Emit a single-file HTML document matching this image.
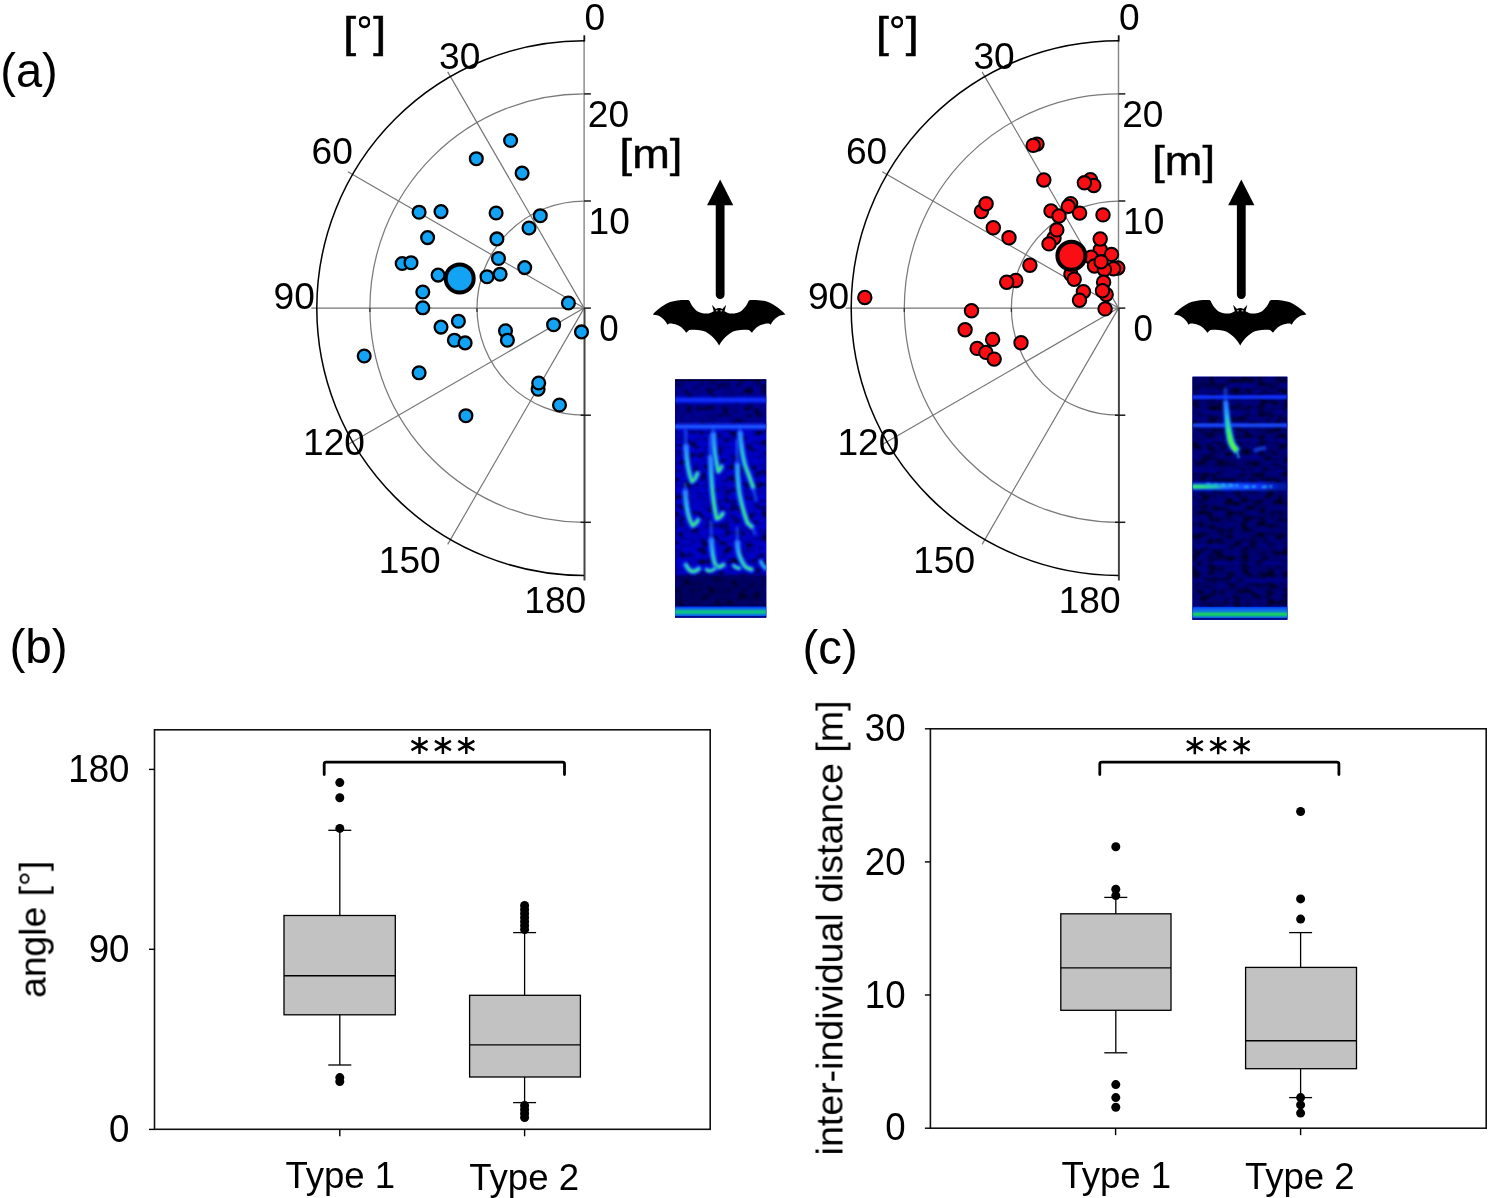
<!DOCTYPE html>
<html><head><meta charset="utf-8"><title>figure</title>
<style>html,body{margin:0;padding:0;background:#fff}svg{display:block}text{font-family:"Liberation Sans", sans-serif;fill:#000;filter:url(#tf)}</style></head><body>
<svg width="1495" height="1198" viewBox="0 0 1495 1198">
<defs>
<filter id="nz" x="0" y="0" width="100%" height="100%" color-interpolation-filters="sRGB">
<feTurbulence type="fractalNoise" baseFrequency="0.13 0.17" numOctaves="2" seed="7" result="t"/>
<feColorMatrix in="t" type="matrix" values="0 0 0 0 0  0 0 0 0 0  1 0 0 0 0  0 0 0 0 1"/>
<feComponentTransfer><feFuncB type="table" tableValues="0.14 0.16 0.20 0.34 0.56 0.72 0.78 0.80 0.80 0.80 0.80"/></feComponentTransfer>
<feGaussianBlur stdDeviation="1.1"/>
</filter>
<filter id="nz2" x="0" y="0" width="100%" height="100%" color-interpolation-filters="sRGB">
<feTurbulence type="fractalNoise" baseFrequency="0.12 0.18" numOctaves="2" seed="23" result="t"/>
<feColorMatrix in="t" type="matrix" values="0 0 0 0 0  0 0 0 0 0  1 0 0 0 0  0 0 0 0 1"/>
<feComponentTransfer><feFuncB type="table" tableValues="0.06 0.08 0.12 0.24 0.44 0.64 0.74 0.78 0.78 0.78 0.78"/></feComponentTransfer>
<feGaussianBlur stdDeviation="1.1"/>
</filter>
<filter id="tf" x="-5%" y="-20%" width="110%" height="140%"><feGaussianBlur stdDeviation="0.3"/></filter>
<filter id="bl1" filterUnits="userSpaceOnUse" x="640" y="360" width="680" height="280"><feGaussianBlur stdDeviation="1.4"/></filter>
<filter id="bl2" filterUnits="userSpaceOnUse" x="640" y="360" width="680" height="280"><feGaussianBlur stdDeviation="0.8"/></filter>
<filter id="soft" x="-5%" y="-5%" width="110%" height="110%"><feGaussianBlur stdDeviation="0.7"/></filter>
<linearGradient id="gline" x1="0" x2="1" y1="0" y2="0">
<stop offset="0" stop-color="#30f070"/><stop offset="0.35" stop-color="#20d0a0"/><stop offset="0.6" stop-color="#2070ff"/><stop offset="1" stop-color="#1038ff"/>
</linearGradient>

</defs>
<rect width="1495" height="1198" fill="#fff"/>
<text transform="translate(0.30 87.40) scale(0.9800 1)" font-size="48" text-anchor="start" >(a)</text>
<text transform="translate(9.40 663.40) scale(0.9900 1)" font-size="48.2" text-anchor="start" >(b)</text>
<text transform="translate(802.60 664.40) scale(0.9800 1)" font-size="48.2" text-anchor="start" >(c)</text>
<g>
<path d="M584.10 201.00 A107.10 107.10 0 0 0 584.10 415.20" fill="none" stroke="#7a7a7a" stroke-width="1.25"/>
<path d="M584.10 93.90 A214.20 214.20 0 0 0 584.10 522.30" fill="none" stroke="#7a7a7a" stroke-width="1.25"/>
<line x1="584.10" y1="308.10" x2="447.70" y2="71.85" stroke="#747474" stroke-width="1.15"/>
<line x1="584.10" y1="308.10" x2="347.85" y2="171.70" stroke="#747474" stroke-width="1.15"/>
<line x1="584.10" y1="308.10" x2="311.30" y2="308.10" stroke="#747474" stroke-width="1.15"/>
<line x1="584.10" y1="308.10" x2="347.85" y2="444.50" stroke="#747474" stroke-width="1.15"/>
<line x1="584.10" y1="308.10" x2="447.70" y2="544.35" stroke="#747474" stroke-width="1.15"/>
<line x1="584.10" y1="40.80" x2="584.10" y2="308.10" stroke="#858585" stroke-width="1.4"/>
<line x1="584.50" y1="308.10" x2="584.50" y2="580.40" stroke="#444" stroke-width="2.0"/>
<line x1="584.30" y1="35.30" x2="584.30" y2="41.60" stroke="#111" stroke-width="1.8"/>
<line x1="584.10" y1="93.90" x2="590.90" y2="93.90" stroke="#1a1a1a" stroke-width="1.5"/>
<line x1="584.10" y1="201.00" x2="590.90" y2="201.00" stroke="#1a1a1a" stroke-width="1.5"/>
<line x1="584.10" y1="308.10" x2="590.90" y2="308.10" stroke="#1a1a1a" stroke-width="1.5"/>
<line x1="580.60" y1="415.20" x2="590.90" y2="415.20" stroke="#1a1a1a" stroke-width="1.5"/>
<line x1="580.60" y1="522.30" x2="590.90" y2="522.30" stroke="#1a1a1a" stroke-width="1.5"/>
<line x1="477.00" y1="308.10" x2="477.00" y2="312.10" stroke="#333" stroke-width="1.3"/>
<line x1="369.90" y1="308.10" x2="369.90" y2="312.10" stroke="#333" stroke-width="1.3"/>
<path d="M584.10 40.80 A267.30 267.30 0 0 0 584.10 575.40" fill="none" stroke="#000" stroke-width="1.5"/>
<circle cx="510.6" cy="140.5" r="6.4" fill="#12a3f5" stroke="#000" stroke-width="2.3"/>
<circle cx="476.3" cy="158.7" r="6.4" fill="#12a3f5" stroke="#000" stroke-width="2.3"/>
<circle cx="522.1" cy="173.1" r="6.4" fill="#12a3f5" stroke="#000" stroke-width="2.3"/>
<circle cx="419.1" cy="212.2" r="6.4" fill="#12a3f5" stroke="#000" stroke-width="2.3"/>
<circle cx="441.0" cy="211.6" r="6.4" fill="#12a3f5" stroke="#000" stroke-width="2.3"/>
<circle cx="496.1" cy="213.0" r="6.4" fill="#12a3f5" stroke="#000" stroke-width="2.3"/>
<circle cx="540.3" cy="215.7" r="6.4" fill="#12a3f5" stroke="#000" stroke-width="2.3"/>
<circle cx="529.0" cy="228.0" r="6.4" fill="#12a3f5" stroke="#000" stroke-width="2.3"/>
<circle cx="427.6" cy="237.6" r="6.4" fill="#12a3f5" stroke="#000" stroke-width="2.3"/>
<circle cx="496.9" cy="238.9" r="6.4" fill="#12a3f5" stroke="#000" stroke-width="2.3"/>
<circle cx="498.5" cy="258.5" r="6.4" fill="#12a3f5" stroke="#000" stroke-width="2.3"/>
<circle cx="524.7" cy="267.6" r="6.4" fill="#12a3f5" stroke="#000" stroke-width="2.3"/>
<circle cx="402.2" cy="263.5" r="6.4" fill="#12a3f5" stroke="#000" stroke-width="2.3"/>
<circle cx="411.0" cy="262.7" r="6.4" fill="#12a3f5" stroke="#000" stroke-width="2.3"/>
<circle cx="438.1" cy="275.1" r="6.4" fill="#12a3f5" stroke="#000" stroke-width="2.3"/>
<circle cx="487.0" cy="276.7" r="6.4" fill="#12a3f5" stroke="#000" stroke-width="2.3"/>
<circle cx="500.1" cy="274.2" r="6.4" fill="#12a3f5" stroke="#000" stroke-width="2.3"/>
<circle cx="422.8" cy="292.0" r="6.4" fill="#12a3f5" stroke="#000" stroke-width="2.3"/>
<circle cx="422.8" cy="307.8" r="6.4" fill="#12a3f5" stroke="#000" stroke-width="2.3"/>
<circle cx="458.4" cy="321.2" r="6.4" fill="#12a3f5" stroke="#000" stroke-width="2.3"/>
<circle cx="441.0" cy="327.1" r="6.4" fill="#12a3f5" stroke="#000" stroke-width="2.3"/>
<circle cx="454.4" cy="340.2" r="6.4" fill="#12a3f5" stroke="#000" stroke-width="2.3"/>
<circle cx="465.1" cy="342.9" r="6.4" fill="#12a3f5" stroke="#000" stroke-width="2.3"/>
<circle cx="505.5" cy="330.8" r="6.4" fill="#12a3f5" stroke="#000" stroke-width="2.3"/>
<circle cx="507.4" cy="340.2" r="6.4" fill="#12a3f5" stroke="#000" stroke-width="2.3"/>
<circle cx="553.6" cy="324.7" r="6.4" fill="#12a3f5" stroke="#000" stroke-width="2.3"/>
<circle cx="568.4" cy="303.0" r="6.4" fill="#12a3f5" stroke="#000" stroke-width="2.3"/>
<circle cx="581.5" cy="331.9" r="6.4" fill="#12a3f5" stroke="#000" stroke-width="2.3"/>
<circle cx="364.2" cy="356.0" r="6.4" fill="#12a3f5" stroke="#000" stroke-width="2.3"/>
<circle cx="419.1" cy="372.8" r="6.4" fill="#12a3f5" stroke="#000" stroke-width="2.3"/>
<circle cx="538.1" cy="389.2" r="6.4" fill="#12a3f5" stroke="#000" stroke-width="2.3"/>
<circle cx="538.7" cy="383.0" r="6.4" fill="#12a3f5" stroke="#000" stroke-width="2.3"/>
<circle cx="559.5" cy="405.0" r="6.4" fill="#12a3f5" stroke="#000" stroke-width="2.3"/>
<circle cx="465.9" cy="415.7" r="6.4" fill="#12a3f5" stroke="#000" stroke-width="2.3"/>
<circle cx="459.7" cy="278.4" r="14.0" fill="#12a3f5" stroke="#000" stroke-width="4"/>
</g>
<g>
<path d="M1118.50 201.00 A107.10 107.10 0 0 0 1118.50 415.20" fill="none" stroke="#7a7a7a" stroke-width="1.25"/>
<path d="M1118.50 93.90 A214.20 214.20 0 0 0 1118.50 522.30" fill="none" stroke="#7a7a7a" stroke-width="1.25"/>
<line x1="1118.50" y1="308.10" x2="982.10" y2="71.85" stroke="#747474" stroke-width="1.15"/>
<line x1="1118.50" y1="308.10" x2="882.25" y2="171.70" stroke="#747474" stroke-width="1.15"/>
<line x1="1118.50" y1="308.10" x2="845.70" y2="308.10" stroke="#747474" stroke-width="1.15"/>
<line x1="1118.50" y1="308.10" x2="882.25" y2="444.50" stroke="#747474" stroke-width="1.15"/>
<line x1="1118.50" y1="308.10" x2="982.10" y2="544.35" stroke="#747474" stroke-width="1.15"/>
<line x1="1118.50" y1="40.80" x2="1118.50" y2="308.10" stroke="#858585" stroke-width="1.4"/>
<line x1="1118.90" y1="308.10" x2="1118.90" y2="580.40" stroke="#444" stroke-width="2.0"/>
<line x1="1118.70" y1="35.30" x2="1118.70" y2="41.60" stroke="#111" stroke-width="1.8"/>
<line x1="1118.50" y1="93.90" x2="1125.30" y2="93.90" stroke="#1a1a1a" stroke-width="1.5"/>
<line x1="1118.50" y1="201.00" x2="1125.30" y2="201.00" stroke="#1a1a1a" stroke-width="1.5"/>
<line x1="1118.50" y1="308.10" x2="1125.30" y2="308.10" stroke="#1a1a1a" stroke-width="1.5"/>
<line x1="1115.00" y1="415.20" x2="1125.30" y2="415.20" stroke="#1a1a1a" stroke-width="1.5"/>
<line x1="1115.00" y1="522.30" x2="1125.30" y2="522.30" stroke="#1a1a1a" stroke-width="1.5"/>
<line x1="1011.40" y1="308.10" x2="1011.40" y2="312.10" stroke="#333" stroke-width="1.3"/>
<line x1="904.30" y1="308.10" x2="904.30" y2="312.10" stroke="#333" stroke-width="1.3"/>
<path d="M1118.50 40.80 A267.30 267.30 0 0 0 1118.50 575.40" fill="none" stroke="#000" stroke-width="1.5"/>
<circle cx="1037.0" cy="144.1" r="6.7" fill="#fb0d14" stroke="#000" stroke-width="2.05"/>
<circle cx="1033.2" cy="145.4" r="6.7" fill="#fb0d14" stroke="#000" stroke-width="2.05"/>
<circle cx="1043.8" cy="180.0" r="6.7" fill="#fb0d14" stroke="#000" stroke-width="2.05"/>
<circle cx="1090.4" cy="179.6" r="6.7" fill="#fb0d14" stroke="#000" stroke-width="2.05"/>
<circle cx="1093.8" cy="185.5" r="6.7" fill="#fb0d14" stroke="#000" stroke-width="2.05"/>
<circle cx="1084.4" cy="182.8" r="6.7" fill="#fb0d14" stroke="#000" stroke-width="2.05"/>
<circle cx="981.4" cy="211.5" r="6.7" fill="#fb0d14" stroke="#000" stroke-width="2.05"/>
<circle cx="986.1" cy="203.8" r="6.7" fill="#fb0d14" stroke="#000" stroke-width="2.05"/>
<circle cx="993.3" cy="227.7" r="6.7" fill="#fb0d14" stroke="#000" stroke-width="2.05"/>
<circle cx="1009.0" cy="237.7" r="6.7" fill="#fb0d14" stroke="#000" stroke-width="2.05"/>
<circle cx="1051.0" cy="210.9" r="6.7" fill="#fb0d14" stroke="#000" stroke-width="2.05"/>
<circle cx="1070.6" cy="203.6" r="6.7" fill="#fb0d14" stroke="#000" stroke-width="2.05"/>
<circle cx="1068.3" cy="206.4" r="6.7" fill="#fb0d14" stroke="#000" stroke-width="2.05"/>
<circle cx="1079.6" cy="213.1" r="6.7" fill="#fb0d14" stroke="#000" stroke-width="2.05"/>
<circle cx="1059.0" cy="216.0" r="6.7" fill="#fb0d14" stroke="#000" stroke-width="2.05"/>
<circle cx="1103.0" cy="214.9" r="6.7" fill="#fb0d14" stroke="#000" stroke-width="2.05"/>
<circle cx="1054.0" cy="238.0" r="6.7" fill="#fb0d14" stroke="#000" stroke-width="2.05"/>
<circle cx="1056.8" cy="229.9" r="6.7" fill="#fb0d14" stroke="#000" stroke-width="2.05"/>
<circle cx="1049.0" cy="243.9" r="6.7" fill="#fb0d14" stroke="#000" stroke-width="2.05"/>
<circle cx="1029.9" cy="265.2" r="6.7" fill="#fb0d14" stroke="#000" stroke-width="2.05"/>
<circle cx="1015.8" cy="280.5" r="6.7" fill="#fb0d14" stroke="#000" stroke-width="2.05"/>
<circle cx="1006.7" cy="282.3" r="6.7" fill="#fb0d14" stroke="#000" stroke-width="2.05"/>
<circle cx="864.8" cy="297.5" r="6.7" fill="#fb0d14" stroke="#000" stroke-width="2.05"/>
<circle cx="971.5" cy="310.8" r="6.7" fill="#fb0d14" stroke="#000" stroke-width="2.05"/>
<circle cx="965.1" cy="329.7" r="6.7" fill="#fb0d14" stroke="#000" stroke-width="2.05"/>
<circle cx="977.1" cy="348.4" r="6.7" fill="#fb0d14" stroke="#000" stroke-width="2.05"/>
<circle cx="992.6" cy="339.4" r="6.7" fill="#fb0d14" stroke="#000" stroke-width="2.05"/>
<circle cx="985.9" cy="352.4" r="6.7" fill="#fb0d14" stroke="#000" stroke-width="2.05"/>
<circle cx="994.2" cy="359.1" r="6.7" fill="#fb0d14" stroke="#000" stroke-width="2.05"/>
<circle cx="1021.0" cy="342.8" r="6.7" fill="#fb0d14" stroke="#000" stroke-width="2.05"/>
<circle cx="1100.3" cy="249.8" r="6.7" fill="#fb0d14" stroke="#000" stroke-width="2.05"/>
<circle cx="1091.2" cy="257.2" r="6.7" fill="#fb0d14" stroke="#000" stroke-width="2.05"/>
<circle cx="1094.5" cy="266.0" r="6.7" fill="#fb0d14" stroke="#000" stroke-width="2.05"/>
<circle cx="1117.8" cy="268.0" r="6.7" fill="#fb0d14" stroke="#000" stroke-width="2.05"/>
<circle cx="1113.5" cy="268.8" r="6.7" fill="#fb0d14" stroke="#000" stroke-width="2.05"/>
<circle cx="1104.4" cy="269.5" r="6.7" fill="#fb0d14" stroke="#000" stroke-width="2.05"/>
<circle cx="1111.5" cy="254.4" r="6.7" fill="#fb0d14" stroke="#000" stroke-width="2.05"/>
<circle cx="1100.2" cy="239.0" r="6.7" fill="#fb0d14" stroke="#000" stroke-width="2.05"/>
<circle cx="1101.1" cy="261.8" r="6.7" fill="#fb0d14" stroke="#000" stroke-width="2.05"/>
<circle cx="1070.9" cy="274.2" r="6.7" fill="#fb0d14" stroke="#000" stroke-width="2.05"/>
<circle cx="1074.2" cy="279.3" r="6.7" fill="#fb0d14" stroke="#000" stroke-width="2.05"/>
<circle cx="1106.2" cy="294.5" r="6.7" fill="#fb0d14" stroke="#000" stroke-width="2.05"/>
<circle cx="1103.6" cy="282.3" r="6.7" fill="#fb0d14" stroke="#000" stroke-width="2.05"/>
<circle cx="1102.5" cy="290.7" r="6.7" fill="#fb0d14" stroke="#000" stroke-width="2.05"/>
<circle cx="1083.4" cy="291.8" r="6.7" fill="#fb0d14" stroke="#000" stroke-width="2.05"/>
<circle cx="1079.5" cy="300.3" r="6.7" fill="#fb0d14" stroke="#000" stroke-width="2.05"/>
<circle cx="1105.1" cy="308.9" r="6.7" fill="#fb0d14" stroke="#000" stroke-width="2.05"/>
<circle cx="1071.4" cy="255.7" r="14.0" fill="#fb0d14" stroke="#000" stroke-width="4"/>
</g>
<text transform="translate(343.20 46.60) scale(1.1000 1)" font-size="42" text-anchor="start" stroke="#000" stroke-width="0.55">[</text>
<text transform="translate(386.00 46.60) scale(1.1000 1)" font-size="42" text-anchor="end" stroke="#000" stroke-width="0.55">]</text>
<circle cx="364.50" cy="22.1" r="4.75" fill="none" stroke="#000" stroke-width="2.7" filter="url(#tf)"/>
<text transform="translate(584.60 29.50) scale(1.0200 1)" font-size="36.4" text-anchor="start" >0</text>
<text transform="translate(439.00 69.10) scale(1.0200 1)" font-size="36.4" text-anchor="start" >30</text>
<text transform="translate(311.50 163.50) scale(1.0200 1)" font-size="36.4" text-anchor="start" >60</text>
<text transform="translate(273.50 308.90) scale(1.0200 1)" font-size="36.4" text-anchor="start" >90</text>
<text transform="translate(303.00 454.60) scale(1.0200 1)" font-size="36.4" text-anchor="start" >120</text>
<text transform="translate(378.80 572.50) scale(1.0200 1)" font-size="36.4" text-anchor="start" >150</text>
<text transform="translate(524.30 613.10) scale(1.0200 1)" font-size="36.4" text-anchor="start" >180</text>
<text transform="translate(587.80 126.60) scale(1.0200 1)" font-size="36.4" text-anchor="start" >20</text>
<text transform="translate(588.60 234.20) scale(1.0200 1)" font-size="36.4" text-anchor="start" >10</text>
<text transform="translate(599.20 341.00) scale(0.9600 1)" font-size="36.4" text-anchor="start" >0</text>
<text transform="translate(619.60 168.40) scale(1.0850 1)" font-size="41.6" text-anchor="start" stroke="#000" stroke-width="0.5">[m]</text>
<text transform="translate(875.90 46.60) scale(1.1000 1)" font-size="42" text-anchor="start" stroke="#000" stroke-width="0.55">[</text>
<text transform="translate(918.70 46.60) scale(1.1000 1)" font-size="42" text-anchor="end" stroke="#000" stroke-width="0.55">]</text>
<circle cx="897.20" cy="22.1" r="4.75" fill="none" stroke="#000" stroke-width="2.7" filter="url(#tf)"/>
<text transform="translate(1119.00 29.50) scale(1.0200 1)" font-size="36.4" text-anchor="start" >0</text>
<text transform="translate(973.40 69.10) scale(1.0200 1)" font-size="36.4" text-anchor="start" >30</text>
<text transform="translate(845.90 163.50) scale(1.0200 1)" font-size="36.4" text-anchor="start" >60</text>
<text transform="translate(807.90 308.90) scale(1.0200 1)" font-size="36.4" text-anchor="start" >90</text>
<text transform="translate(837.40 454.60) scale(1.0200 1)" font-size="36.4" text-anchor="start" >120</text>
<text transform="translate(913.20 572.50) scale(1.0200 1)" font-size="36.4" text-anchor="start" >150</text>
<text transform="translate(1058.70 613.10) scale(1.0200 1)" font-size="36.4" text-anchor="start" >180</text>
<text transform="translate(1122.20 126.60) scale(1.0200 1)" font-size="36.4" text-anchor="start" >20</text>
<text transform="translate(1123.00 234.20) scale(1.0200 1)" font-size="36.4" text-anchor="start" >10</text>
<text transform="translate(1133.60 341.00) scale(0.9600 1)" font-size="36.4" text-anchor="start" >0</text>
<text transform="translate(1152.30 175.00) scale(1.0850 1)" font-size="41.6" text-anchor="start" stroke="#000" stroke-width="0.5">[m]</text>
<path d="M720.15 179.6 L733.25 205.2 L707.05 205.2 Z" fill="#000"/>
<line x1="720.15" y1="203" x2="720.15" y2="294.6" stroke="#000" stroke-width="8.8" stroke-linecap="round"/>
<path d="M0.0 45.6 C-2.5 41.0 -5.5 37.5 -8.8 35.1 C-12.0 32.4 -15.0 30.8 -17.9 30.6 C-22.0 29.4 -26.5 29.4 -29.9 30.1 L-32.9 32.8 C-35.0 29.5 -38.5 26.0 -41.9 25.0 C-45.0 23.8 -48.0 23.3 -50.0 23.6 L-51.7 24.8 C-53.0 21.0 -57.0 17.5 -61.0 15.5 L-66.3 14.4 C-62.0 9.5 -55.0 4.5 -49.0 2.0 C-44.0 0.2 -36.0 -0.3 -30.9 0.0 L-29.4 1.0 C-28.5 4.0 -25.0 9.0 -21.9 11.2 C-18.0 13.6 -12.0 14.1 -8.8 13.0 L-5.4 11.2 L-7.1 4.8 L-3.3 8.9 C-1.5 7.7 1.5 7.7 3.3 8.9 L7.1 4.8 L5.4 11.2 L8.8 13.0 C12.0 14.1 18.0 13.6 21.9 11.2 C25.0 9.0 28.5 4.0 29.4 1.0 L30.9 0.0 C36.0 -0.3 44.0 0.2 49.0 2.0 C55.0 4.5 62.0 9.5 66.3 14.4 L61.0 15.5 C57.0 17.5 53.0 21.0 51.7 24.8 L50.0 23.6 C48.0 23.3 45.0 23.8 41.9 25.0 C38.5 26.0 35.0 29.5 32.9 32.8 L29.9 30.1 C26.5 29.4 22.0 29.4 17.9 30.6 C15.0 30.8 12.0 32.4 8.8 35.1 C5.5 37.5 2.5 41.0 0.0 45.6 Z" transform="translate(719.10 300.0)" fill="#000"/>
<ellipse cx="716.80" cy="310.8" rx="1.1" ry="0.7" fill="#aaa"/><ellipse cx="721.30" cy="310.8" rx="1.1" ry="0.7" fill="#aaa"/>
<path d="M1241.30 179.6 L1254.40 205.2 L1228.20 205.2 Z" fill="#000"/>
<line x1="1241.30" y1="203" x2="1241.30" y2="294.6" stroke="#000" stroke-width="8.8" stroke-linecap="round"/>
<path d="M0.0 45.6 C-2.5 41.0 -5.5 37.5 -8.8 35.1 C-12.0 32.4 -15.0 30.8 -17.9 30.6 C-22.0 29.4 -26.5 29.4 -29.9 30.1 L-32.9 32.8 C-35.0 29.5 -38.5 26.0 -41.9 25.0 C-45.0 23.8 -48.0 23.3 -50.0 23.6 L-51.7 24.8 C-53.0 21.0 -57.0 17.5 -61.0 15.5 L-66.3 14.4 C-62.0 9.5 -55.0 4.5 -49.0 2.0 C-44.0 0.2 -36.0 -0.3 -30.9 0.0 L-29.4 1.0 C-28.5 4.0 -25.0 9.0 -21.9 11.2 C-18.0 13.6 -12.0 14.1 -8.8 13.0 L-5.4 11.2 L-7.1 4.8 L-3.3 8.9 C-1.5 7.7 1.5 7.7 3.3 8.9 L7.1 4.8 L5.4 11.2 L8.8 13.0 C12.0 14.1 18.0 13.6 21.9 11.2 C25.0 9.0 28.5 4.0 29.4 1.0 L30.9 0.0 C36.0 -0.3 44.0 0.2 49.0 2.0 C55.0 4.5 62.0 9.5 66.3 14.4 L61.0 15.5 C57.0 17.5 53.0 21.0 51.7 24.8 L50.0 23.6 C48.0 23.3 45.0 23.8 41.9 25.0 C38.5 26.0 35.0 29.5 32.9 32.8 L29.9 30.1 C26.5 29.4 22.0 29.4 17.9 30.6 C15.0 30.8 12.0 32.4 8.8 35.1 C5.5 37.5 2.5 41.0 0.0 45.6 Z" transform="translate(1240.20 300.0)" fill="#000"/>
<ellipse cx="1237.90" cy="310.8" rx="1.1" ry="0.7" fill="#aaa"/><ellipse cx="1242.40" cy="310.8" rx="1.1" ry="0.7" fill="#aaa"/>
<clipPath id="cp1"><rect x="675.0" y="379.2" width="91.4" height="238.5"/></clipPath>
<g filter="url(#soft)"><g clip-path="url(#cp1)">
<rect x="675.0" y="379.2" width="91.4" height="238.5" fill="#0000c0"/>
<rect x="675.0" y="379.2" width="91.4" height="238.5" filter="url(#nz)"/>
<rect x="675.0" y="379.2" width="91.4" height="46" fill="#000020" opacity="0.32"/>
<rect x="675.0" y="575" width="91.4" height="32" fill="#000014" opacity="0.55" filter="url(#bl2)"/>
<rect x="675.0" y="379.2" width="91.4" height="1.8" fill="#00000c" opacity="0.75"/>
<rect x="675.0" y="396.4" width="91.4" height="7.4" fill="#0818e8" opacity="0.7" filter="url(#bl1)"/>
<rect x="675.0" y="398.3" width="91.4" height="3.4" fill="#1230ff" filter="url(#bl2)"/>
<rect x="675.0" y="423.0" width="91.4" height="7.2" fill="#0818e8" opacity="0.7" filter="url(#bl1)"/>
<rect x="675.0" y="424.8" width="91.4" height="3.6" fill="#1c58ff" filter="url(#bl2)"/>
<rect x="675.0" y="606.6" width="91.4" height="11.1" fill="#0838f0"/>
<rect x="675.0" y="608.2" width="91.4" height="7.6" fill="#0c78f0" filter="url(#bl2)"/>
<rect x="675.0" y="610.5" width="91.4" height="3.0" fill="#14dc60" filter="url(#bl2)"/>
<rect x="675.0" y="616.2" width="91.4" height="1.5" fill="#000070"/>
<path d="M685.6 430 L686 447" stroke="#1c5cff" stroke-width="3" fill="none" opacity="0.75" stroke-linecap="round" filter="url(#bl1)"/>
<path d="M713 428 L713.4 436" stroke="#1c5cff" stroke-width="3" fill="none" opacity="0.75" stroke-linecap="round" filter="url(#bl1)"/>
<path d="M739.6 428 L740.1 434" stroke="#1c5cff" stroke-width="3" fill="none" opacity="0.75" stroke-linecap="round" filter="url(#bl1)"/>
<path d="M710.4 436 L710.7 458" stroke="#1c5cff" stroke-width="3" fill="none" opacity="0.75" stroke-linecap="round" filter="url(#bl1)"/>
<path d="M737 440 L737.4 466" stroke="#1c5cff" stroke-width="3" fill="none" opacity="0.75" stroke-linecap="round" filter="url(#bl1)"/>
<path d="M711 522 L711.4 541" stroke="#1c5cff" stroke-width="3" fill="none" opacity="0.75" stroke-linecap="round" filter="url(#bl1)"/>
<path d="M737.2 528 L737.4 543" stroke="#1c5cff" stroke-width="3" fill="none" opacity="0.75" stroke-linecap="round" filter="url(#bl1)"/>
<path d="M685.2 484 L685.4 493" stroke="#1c5cff" stroke-width="3" fill="none" opacity="0.75" stroke-linecap="round" filter="url(#bl1)"/>
<path d="M753.4 489 L756 500" stroke="#1c5cff" stroke-width="3" fill="none" opacity="0.75" stroke-linecap="round" filter="url(#bl1)"/>
<path d="M752 527 L755 534" stroke="#1c5cff" stroke-width="3" fill="none" opacity="0.75" stroke-linecap="round" filter="url(#bl1)"/>
<linearGradient id="cg1" gradientUnits="userSpaceOnUse" x1="0" x2="0" y1="446" y2="482"><stop offset="0" stop-color="#2a86ff"/><stop offset="0.45" stop-color="#24c8d8"/><stop offset="1" stop-color="#34f07c"/></linearGradient>
<path d="M686 446.7 C686.4 456 688 472 692 481.4 C694.4 480 696.4 476.6 697.4 473.4" stroke="#2068ff" stroke-width="5.8" fill="none" stroke-linecap="round" stroke-linejoin="round" filter="url(#bl1)"/>
<path d="M686 446.7 C686.4 456 688 472 692 481.4 C694.4 480 696.4 476.6 697.4 473.4" stroke="url(#cg1)" stroke-width="2.6" fill="none" stroke-linecap="round" stroke-linejoin="round" filter="url(#bl2)"/>
<linearGradient id="cg2" gradientUnits="userSpaceOnUse" x1="0" x2="0" y1="492" y2="526"><stop offset="0" stop-color="#2a86ff"/><stop offset="0.45" stop-color="#24c8d8"/><stop offset="1" stop-color="#34f07c"/></linearGradient>
<path d="M685.4 492.1 C686 505 688.4 519 692.7 525.5 C695 524.6 697 522.4 698 520.1" stroke="#2068ff" stroke-width="5.8" fill="none" stroke-linecap="round" stroke-linejoin="round" filter="url(#bl1)"/>
<path d="M685.4 492.1 C686 505 688.4 519 692.7 525.5 C695 524.6 697 522.4 698 520.1" stroke="url(#cg2)" stroke-width="2.6" fill="none" stroke-linecap="round" stroke-linejoin="round" filter="url(#bl2)"/>
<linearGradient id="cg3" gradientUnits="userSpaceOnUse" x1="0" x2="0" y1="556" y2="572"><stop offset="0" stop-color="#2a86ff"/><stop offset="0.5" stop-color="#24c8d8"/><stop offset="1" stop-color="#34f07c"/></linearGradient>
<path d="M686 564.9 C687.6 568.4 690 571 692.7 571.5 C695.4 571.4 697.4 570.2 698.7 568.9" stroke="#2068ff" stroke-width="5.8" fill="none" stroke-linecap="round" stroke-linejoin="round" filter="url(#bl1)"/>
<path d="M686 564.9 C687.6 568.4 690 571 692.7 571.5 C695.4 571.4 697.4 570.2 698.7 568.9" stroke="url(#cg3)" stroke-width="2.6" fill="none" stroke-linecap="round" stroke-linejoin="round" filter="url(#bl2)"/>
<linearGradient id="cg4" gradientUnits="userSpaceOnUse" x1="0" x2="0" y1="434" y2="472"><stop offset="0" stop-color="#2a86ff"/><stop offset="0.45" stop-color="#24c8d8"/><stop offset="1" stop-color="#34f07c"/></linearGradient>
<path d="M713.4 434.7 C714 448 715.4 461 718.3 471.4 C719.8 470.4 720.8 468.6 721.4 466.7" stroke="#2068ff" stroke-width="5.8" fill="none" stroke-linecap="round" stroke-linejoin="round" filter="url(#bl1)"/>
<path d="M713.4 434.7 C714 448 715.4 461 718.3 471.4 C719.8 470.4 720.8 468.6 721.4 466.7" stroke="url(#cg4)" stroke-width="2.6" fill="none" stroke-linecap="round" stroke-linejoin="round" filter="url(#bl2)"/>
<linearGradient id="cg5" gradientUnits="userSpaceOnUse" x1="0" x2="0" y1="457" y2="500"><stop offset="0" stop-color="#2a86ff"/><stop offset="0.45" stop-color="#24c8d8"/><stop offset="1" stop-color="#34f07c"/></linearGradient>
<path d="M710.7 457.4 C711 480 713.4 504 716.7 518.8 C719.4 518 721.6 516 722.7 513.5" stroke="#2068ff" stroke-width="5.8" fill="none" stroke-linecap="round" stroke-linejoin="round" filter="url(#bl1)"/>
<path d="M710.7 457.4 C711 480 713.4 504 716.7 518.8 C719.4 518 721.6 516 722.7 513.5" stroke="url(#cg5)" stroke-width="2.6" fill="none" stroke-linecap="round" stroke-linejoin="round" filter="url(#bl2)"/>
<linearGradient id="cg6" gradientUnits="userSpaceOnUse" x1="0" x2="0" y1="540" y2="568"><stop offset="0" stop-color="#2a86ff"/><stop offset="0.45" stop-color="#24c8d8"/><stop offset="1" stop-color="#34f07c"/></linearGradient>
<path d="M711.4 540.2 C712 550 713 558 714.7 563 C716 566 718 567.2 719.4 566.9 C721 566.4 722.4 565.6 723.4 564.9" stroke="#2068ff" stroke-width="5.8" fill="none" stroke-linecap="round" stroke-linejoin="round" filter="url(#bl1)"/>
<path d="M711.4 540.2 C712 550 713 558 714.7 563 C716 566 718 567.2 719.4 566.9 C721 566.4 722.4 565.6 723.4 564.9" stroke="url(#cg6)" stroke-width="2.6" fill="none" stroke-linecap="round" stroke-linejoin="round" filter="url(#bl2)"/>
<linearGradient id="cg7" gradientUnits="userSpaceOnUse" x1="0" x2="0" y1="560" y2="572"><stop offset="0" stop-color="#2a86ff"/><stop offset="0.5" stop-color="#24c8d8"/><stop offset="1" stop-color="#34f07c"/></linearGradient>
<path d="M706.4 569.6 C709 571.6 712.4 571 715.4 568" stroke="#2068ff" stroke-width="4.4" fill="none" stroke-linecap="round" stroke-linejoin="round" filter="url(#bl1)"/>
<path d="M706.4 569.6 C709 571.6 712.4 571 715.4 568" stroke="url(#cg7)" stroke-width="2.0" fill="none" stroke-linecap="round" stroke-linejoin="round" filter="url(#bl2)"/>
<linearGradient id="cg8" gradientUnits="userSpaceOnUse" x1="0" x2="0" y1="433" y2="470"><stop offset="0" stop-color="#2a86ff"/><stop offset="0.45" stop-color="#24c8d8"/><stop offset="1" stop-color="#30e890"/></linearGradient>
<path d="M740.1 433.4 C741 445 742.6 456 744.8 464.1 C746.4 469 748.4 474 750.1 478.7 L753 487" stroke="#2068ff" stroke-width="5.8" fill="none" stroke-linecap="round" stroke-linejoin="round" filter="url(#bl1)"/>
<path d="M740.1 433.4 C741 445 742.6 456 744.8 464.1 C746.4 469 748.4 474 750.1 478.7 L753 487" stroke="url(#cg8)" stroke-width="2.6" fill="none" stroke-linecap="round" stroke-linejoin="round" filter="url(#bl2)"/>
<linearGradient id="cg9" gradientUnits="userSpaceOnUse" x1="0" x2="0" y1="452" y2="520"><stop offset="0" stop-color="#2a86ff"/><stop offset="0.45" stop-color="#24c8d8"/><stop offset="1" stop-color="#34f07c"/></linearGradient>
<path d="M737.4 465.4 C737.6 480 738.8 492 740.8 500.1 C742.6 508 745 516.4 747.4 522.8 L751.6 526.6" stroke="#2068ff" stroke-width="5.8" fill="none" stroke-linecap="round" stroke-linejoin="round" filter="url(#bl1)"/>
<path d="M737.4 465.4 C737.6 480 738.8 492 740.8 500.1 C742.6 508 745 516.4 747.4 522.8 L751.6 526.6" stroke="url(#cg9)" stroke-width="2.6" fill="none" stroke-linecap="round" stroke-linejoin="round" filter="url(#bl2)"/>
<linearGradient id="cg10" gradientUnits="userSpaceOnUse" x1="0" x2="0" y1="542" y2="570"><stop offset="0" stop-color="#2a86ff"/><stop offset="0.45" stop-color="#24c8d8"/><stop offset="1" stop-color="#34f07c"/></linearGradient>
<path d="M737.4 542.8 C737.8 550 739 555.6 740.8 558.8 C742.4 562.4 743.4 564.6 744.8 566.2 C747 568 749.4 569 751.4 569.5" stroke="#2068ff" stroke-width="5.8" fill="none" stroke-linecap="round" stroke-linejoin="round" filter="url(#bl1)"/>
<path d="M737.4 542.8 C737.8 550 739 555.6 740.8 558.8 C742.4 562.4 743.4 564.6 744.8 566.2 C747 568 749.4 569 751.4 569.5" stroke="url(#cg10)" stroke-width="2.6" fill="none" stroke-linecap="round" stroke-linejoin="round" filter="url(#bl2)"/>
<linearGradient id="cg11" gradientUnits="userSpaceOnUse" x1="0" x2="0" y1="556" y2="570"><stop offset="0" stop-color="#2a86ff"/><stop offset="0.5" stop-color="#24c8d8"/><stop offset="1" stop-color="#34f07c"/></linearGradient>
<path d="M733.6 565.5 C735.4 567.4 737.6 568.2 739.4 568.2" stroke="#2068ff" stroke-width="4.4" fill="none" stroke-linecap="round" stroke-linejoin="round" filter="url(#bl1)"/>
<path d="M733.6 565.5 C735.4 567.4 737.6 568.2 739.4 568.2" stroke="url(#cg11)" stroke-width="2.0" fill="none" stroke-linecap="round" stroke-linejoin="round" filter="url(#bl2)"/>
<linearGradient id="cg12" gradientUnits="userSpaceOnUse" x1="0" x2="0" y1="556" y2="572"><stop offset="0" stop-color="#2a86ff"/><stop offset="0.45" stop-color="#24c8d8"/><stop offset="1" stop-color="#28c0e0"/></linearGradient>
<path d="M760.8 561.5 C762 564.6 763.8 567 766 568.4" stroke="#2068ff" stroke-width="4.4" fill="none" stroke-linecap="round" stroke-linejoin="round" filter="url(#bl1)"/>
<path d="M760.8 561.5 C762 564.6 763.8 567 766 568.4" stroke="url(#cg12)" stroke-width="2.0" fill="none" stroke-linecap="round" stroke-linejoin="round" filter="url(#bl2)"/>
</g></g>
<clipPath id="cp2"><rect x="1192.3" y="376.6" width="95.2" height="243.2"/></clipPath>
<g filter="url(#soft)"><g clip-path="url(#cp2)">
<rect x="1192.3" y="376.6" width="95.2" height="243.2" fill="#0000a0"/>
<rect x="1192.3" y="376.6" width="95.2" height="243.2" filter="url(#nz2)"/>
<rect x="1192.3" y="376.6" width="95.2" height="243.2" fill="#000014" opacity="0.42"/>
<rect x="1192.3" y="385" width="95.2" height="2.2" fill="#0a30ff" opacity="0.18" filter="url(#bl2)"/>
<rect x="1192.3" y="411" width="95.2" height="2.2" fill="#0a30ff" opacity="0.18" filter="url(#bl2)"/>
<rect x="1192.3" y="439" width="95.2" height="2.2" fill="#0a30ff" opacity="0.18" filter="url(#bl2)"/>
<rect x="1192.3" y="456" width="95.2" height="2.2" fill="#0a30ff" opacity="0.18" filter="url(#bl2)"/>
<rect x="1192.3" y="470" width="95.2" height="2.2" fill="#0a30ff" opacity="0.18" filter="url(#bl2)"/>
<rect x="1192.3" y="545" width="95.2" height="2.2" fill="#0a30ff" opacity="0.18" filter="url(#bl2)"/>
<rect x="1192.3" y="562" width="95.2" height="2.2" fill="#0a30ff" opacity="0.18" filter="url(#bl2)"/>
<rect x="1192.3" y="580" width="95.2" height="2.2" fill="#0a30ff" opacity="0.18" filter="url(#bl2)"/>
<rect x="1192.3" y="395.2" width="95.2" height="3.8" fill="#0c34ff" filter="url(#bl2)"/>
<rect x="1192.3" y="423.4" width="95.2" height="3.8" fill="#184cff" filter="url(#bl2)"/>
<linearGradient id="bfade" x1="0" x2="1" y1="0" y2="0"><stop offset="0" stop-color="#0a38ff"/><stop offset="0.7" stop-color="#0a34ff" stop-opacity="0.95"/><stop offset="1" stop-color="#0a30f0" stop-opacity="0.35"/></linearGradient>
<rect x="1192.3" y="482.6" width="95.2" height="7.8" fill="url(#bfade)" filter="url(#bl1)"/>
<rect x="1192.3" y="484.4" width="58" height="4.4" fill="url(#gline)" filter="url(#bl2)"/>
<path d="M1206 484.6 L1238 485.4 M1244 487 L1256 486.4 M1262 487 L1272 486.4" stroke="#24b8e8" stroke-width="2" fill="none" stroke-dasharray="5 2.4" filter="url(#bl2)"/>
<rect x="1192.3" y="606.8" width="95.2" height="13.0" fill="#0838f0"/>
<rect x="1192.3" y="608.4" width="95.2" height="9.4" fill="#0c70f0" filter="url(#bl2)"/>
<rect x="1192.3" y="612.6" width="95.2" height="3.4" fill="#14e048" filter="url(#bl2)"/>
<rect x="1192.3" y="618.2" width="95.2" height="1.6" fill="#000070"/>
<linearGradient id="wdg" gradientUnits="userSpaceOnUse" x1="0" x2="0" y1="402" y2="450"><stop offset="0" stop-color="#2a7cff"/><stop offset="0.35" stop-color="#22c4e0"/><stop offset="0.62" stop-color="#30f070"/><stop offset="1" stop-color="#50f848"/></linearGradient>
<path d="M1225.4 388 L1225.7 403" stroke="#1850ff" stroke-width="3" fill="none" opacity="0.8" filter="url(#bl1)"/>
<path d="M1224.9 402 C1225.2 416 1226 430 1228.4 441 C1229.8 446 1232 449.6 1235.6 452.4 L1238.4 449 C1236 446.6 1233.8 444 1232.8 440 C1230.6 431 1227.8 416 1226.6 402 Z" fill="#1858ff" stroke="#1858ff" stroke-width="3.4" stroke-linejoin="round" filter="url(#bl1)"/>
<path d="M1224.9 402 C1225.2 416 1226 430 1228.4 441 C1229.8 446 1232 449.6 1235.6 452.4 L1238.4 449 C1236 446.6 1233.8 444 1232.8 440 C1230.6 431 1227.8 416 1226.6 402 Z" fill="url(#wdg)" stroke="url(#wdg)" stroke-width="1" stroke-linejoin="round" filter="url(#bl2)"/>
<path d="M1237 451 L1238.6 457.4" stroke="#24a8f0" stroke-width="1.8" fill="none" stroke-linecap="round" filter="url(#bl2)"/>
<path d="M1254 451 C1258 448.6 1262 447.6 1266 448.6" stroke="#1850ff" stroke-width="3.4" fill="none" opacity="0.85" filter="url(#bl1)"/>
</g></g>
<rect x="154.50" y="729.80" width="555.70" height="399.50" fill="none" stroke="#111" stroke-width="1.6"/>
<line x1="149.00" y1="769.40" x2="154.50" y2="769.40" stroke="#000" stroke-width="1.4"/>
<text transform="translate(129.50 782.20) scale(0.9650 1)" font-size="38.0" text-anchor="end" >180</text>
<line x1="149.00" y1="949.30" x2="154.50" y2="949.30" stroke="#000" stroke-width="1.4"/>
<text transform="translate(129.50 962.20) scale(0.9650 1)" font-size="38.0" text-anchor="end" >90</text>
<line x1="149.00" y1="1129.40" x2="154.50" y2="1129.40" stroke="#000" stroke-width="1.4"/>
<text transform="translate(129.50 1142.20) scale(0.9650 1)" font-size="38.0" text-anchor="end" >0</text>
<line x1="339.80" y1="1129.30" x2="339.80" y2="1136.30" stroke="#000" stroke-width="1.4"/>
<line x1="524.60" y1="1129.30" x2="524.60" y2="1136.30" stroke="#000" stroke-width="1.4"/>
<line x1="339.80" y1="830.30" x2="339.80" y2="1065.00" stroke="#000" stroke-width="1.3"/>
<line x1="328.30" y1="830.30" x2="351.30" y2="830.30" stroke="#000" stroke-width="1.3"/>
<line x1="328.30" y1="1065.00" x2="351.30" y2="1065.00" stroke="#000" stroke-width="1.3"/>
<rect x="284.00" y="915.50" width="111.30" height="99.30" fill="#c2c2c2" stroke="#000" stroke-width="1.3"/>
<line x1="284.00" y1="975.70" x2="395.30" y2="975.70" stroke="#000" stroke-width="1.4"/>
<circle cx="339.80" cy="782.60" r="4.5" fill="#000"/>
<circle cx="339.80" cy="797.80" r="4.5" fill="#000"/>
<circle cx="339.80" cy="828.40" r="4.5" fill="#000"/>
<circle cx="339.80" cy="1077.60" r="4.5" fill="#000"/>
<circle cx="339.80" cy="1081.60" r="4.5" fill="#000"/>
<line x1="524.60" y1="932.60" x2="524.60" y2="1102.60" stroke="#000" stroke-width="1.3"/>
<line x1="513.10" y1="932.60" x2="536.10" y2="932.60" stroke="#000" stroke-width="1.3"/>
<line x1="513.10" y1="1102.60" x2="536.10" y2="1102.60" stroke="#000" stroke-width="1.3"/>
<rect x="469.60" y="995.30" width="110.80" height="81.70" fill="#c2c2c2" stroke="#000" stroke-width="1.3"/>
<line x1="469.60" y1="1044.90" x2="580.40" y2="1044.90" stroke="#000" stroke-width="1.4"/>
<circle cx="524.60" cy="905.50" r="4.5" fill="#000"/>
<circle cx="524.60" cy="909.50" r="4.5" fill="#000"/>
<circle cx="524.60" cy="913.50" r="4.5" fill="#000"/>
<circle cx="524.60" cy="917.50" r="4.5" fill="#000"/>
<circle cx="524.60" cy="921.50" r="4.5" fill="#000"/>
<circle cx="524.60" cy="925.50" r="4.5" fill="#000"/>
<circle cx="524.60" cy="929.50" r="4.5" fill="#000"/>
<circle cx="524.60" cy="1105.50" r="4.5" fill="#000"/>
<circle cx="524.60" cy="1109.50" r="4.5" fill="#000"/>
<circle cx="524.60" cy="1113.50" r="4.5" fill="#000"/>
<circle cx="524.60" cy="1117.50" r="4.5" fill="#000"/>
<path d="M324.20 774.60 L324.20 764.20 Q324.20 762.20 326.20 762.20 L562.50 762.20 Q564.50 762.20 564.50 764.20 L564.50 774.60" fill="none" stroke="#000" stroke-width="2.8" stroke-linecap="round"/>
<path d="M419.50 736.90 V754.10 M411.50 740.80 L427.50 750.20 M411.50 750.20 L427.50 740.80" stroke="#000" stroke-width="2.5" fill="none"/>
<path d="M442.90 736.90 V754.10 M434.90 740.80 L450.90 750.20 M434.90 750.20 L450.90 740.80" stroke="#000" stroke-width="2.5" fill="none"/>
<path d="M466.30 736.90 V754.10 M458.30 740.80 L474.30 750.20 M458.30 750.20 L474.30 740.80" stroke="#000" stroke-width="2.5" fill="none"/>
<text transform="translate(45.60 929.40) rotate(-90) scale(1.0360 1)" font-size="36" text-anchor="middle">angle [°]</text>
<text transform="translate(285.40 1188.30) scale(1.0000 1)" font-size="36.6" text-anchor="start" >Type 1</text>
<text transform="translate(469.20 1189.60) scale(1.0000 1)" font-size="36.6" text-anchor="start" >Type 2</text>
<rect x="930.40" y="728.80" width="555.80" height="399.40" fill="none" stroke="#111" stroke-width="1.6"/>
<line x1="924.90" y1="728.80" x2="930.40" y2="728.80" stroke="#000" stroke-width="1.4"/>
<text transform="translate(905.60 741.40) scale(0.9650 1)" font-size="38.0" text-anchor="end" >30</text>
<line x1="924.90" y1="861.90" x2="930.40" y2="861.90" stroke="#000" stroke-width="1.4"/>
<text transform="translate(905.60 874.80) scale(0.9650 1)" font-size="38.0" text-anchor="end" >20</text>
<line x1="924.90" y1="995.00" x2="930.40" y2="995.00" stroke="#000" stroke-width="1.4"/>
<text transform="translate(905.60 1007.80) scale(0.9650 1)" font-size="38.0" text-anchor="end" >10</text>
<line x1="924.90" y1="1128.20" x2="930.40" y2="1128.20" stroke="#000" stroke-width="1.4"/>
<text transform="translate(905.60 1140.40) scale(0.9650 1)" font-size="38.0" text-anchor="end" >0</text>
<line x1="1115.60" y1="1128.20" x2="1115.60" y2="1135.20" stroke="#000" stroke-width="1.4"/>
<line x1="1300.60" y1="1128.20" x2="1300.60" y2="1135.20" stroke="#000" stroke-width="1.4"/>
<line x1="1115.80" y1="897.40" x2="1115.80" y2="1052.80" stroke="#000" stroke-width="1.3"/>
<line x1="1104.30" y1="897.40" x2="1127.30" y2="897.40" stroke="#000" stroke-width="1.3"/>
<line x1="1104.30" y1="1052.80" x2="1127.30" y2="1052.80" stroke="#000" stroke-width="1.3"/>
<rect x="1060.80" y="913.80" width="110.20" height="96.50" fill="#c2c2c2" stroke="#000" stroke-width="1.3"/>
<line x1="1060.80" y1="967.90" x2="1171.00" y2="967.90" stroke="#000" stroke-width="1.4"/>
<circle cx="1115.80" cy="846.80" r="4.5" fill="#000"/>
<circle cx="1115.80" cy="889.20" r="4.5" fill="#000"/>
<circle cx="1115.80" cy="895.60" r="4.5" fill="#000"/>
<circle cx="1115.80" cy="1084.60" r="4.5" fill="#000"/>
<circle cx="1115.80" cy="1097.60" r="4.5" fill="#000"/>
<circle cx="1115.80" cy="1107.30" r="4.5" fill="#000"/>
<line x1="1300.60" y1="932.60" x2="1300.60" y2="1097.60" stroke="#000" stroke-width="1.3"/>
<line x1="1289.10" y1="932.60" x2="1312.10" y2="932.60" stroke="#000" stroke-width="1.3"/>
<line x1="1289.10" y1="1097.60" x2="1312.10" y2="1097.60" stroke="#000" stroke-width="1.3"/>
<rect x="1245.60" y="967.40" width="110.90" height="101.30" fill="#c2c2c2" stroke="#000" stroke-width="1.3"/>
<line x1="1245.60" y1="1040.70" x2="1356.50" y2="1040.70" stroke="#000" stroke-width="1.4"/>
<circle cx="1300.60" cy="811.50" r="4.5" fill="#000"/>
<circle cx="1300.60" cy="898.90" r="4.5" fill="#000"/>
<circle cx="1300.60" cy="919.10" r="4.5" fill="#000"/>
<circle cx="1300.60" cy="1097.60" r="4.5" fill="#000"/>
<circle cx="1300.60" cy="1104.90" r="4.5" fill="#000"/>
<circle cx="1300.60" cy="1113.10" r="4.5" fill="#000"/>
<path d="M1099.80 774.60 L1099.80 764.20 Q1099.80 762.20 1101.80 762.20 L1336.90 762.20 Q1338.90 762.20 1338.90 764.20 L1338.90 774.60" fill="none" stroke="#000" stroke-width="2.8" stroke-linecap="round"/>
<path d="M1194.80 737.10 V754.30 M1186.80 741.00 L1202.80 750.40 M1186.80 750.40 L1202.80 741.00" stroke="#000" stroke-width="2.5" fill="none"/>
<path d="M1218.20 737.10 V754.30 M1210.20 741.00 L1226.20 750.40 M1210.20 750.40 L1226.20 741.00" stroke="#000" stroke-width="2.5" fill="none"/>
<path d="M1241.60 737.10 V754.30 M1233.60 741.00 L1249.60 750.40 M1233.60 750.40 L1249.60 741.00" stroke="#000" stroke-width="2.5" fill="none"/>
<text transform="translate(842.50 927.90) rotate(-90) scale(1.0150 1)" font-size="37" text-anchor="middle">inter-individual distance [m]</text>
<text transform="translate(1061.40 1187.80) scale(1.0000 1)" font-size="36.6" text-anchor="start" >Type 1</text>
<text transform="translate(1244.90 1189.10) scale(1.0000 1)" font-size="36.6" text-anchor="start" >Type 2</text>
</svg></body></html>
